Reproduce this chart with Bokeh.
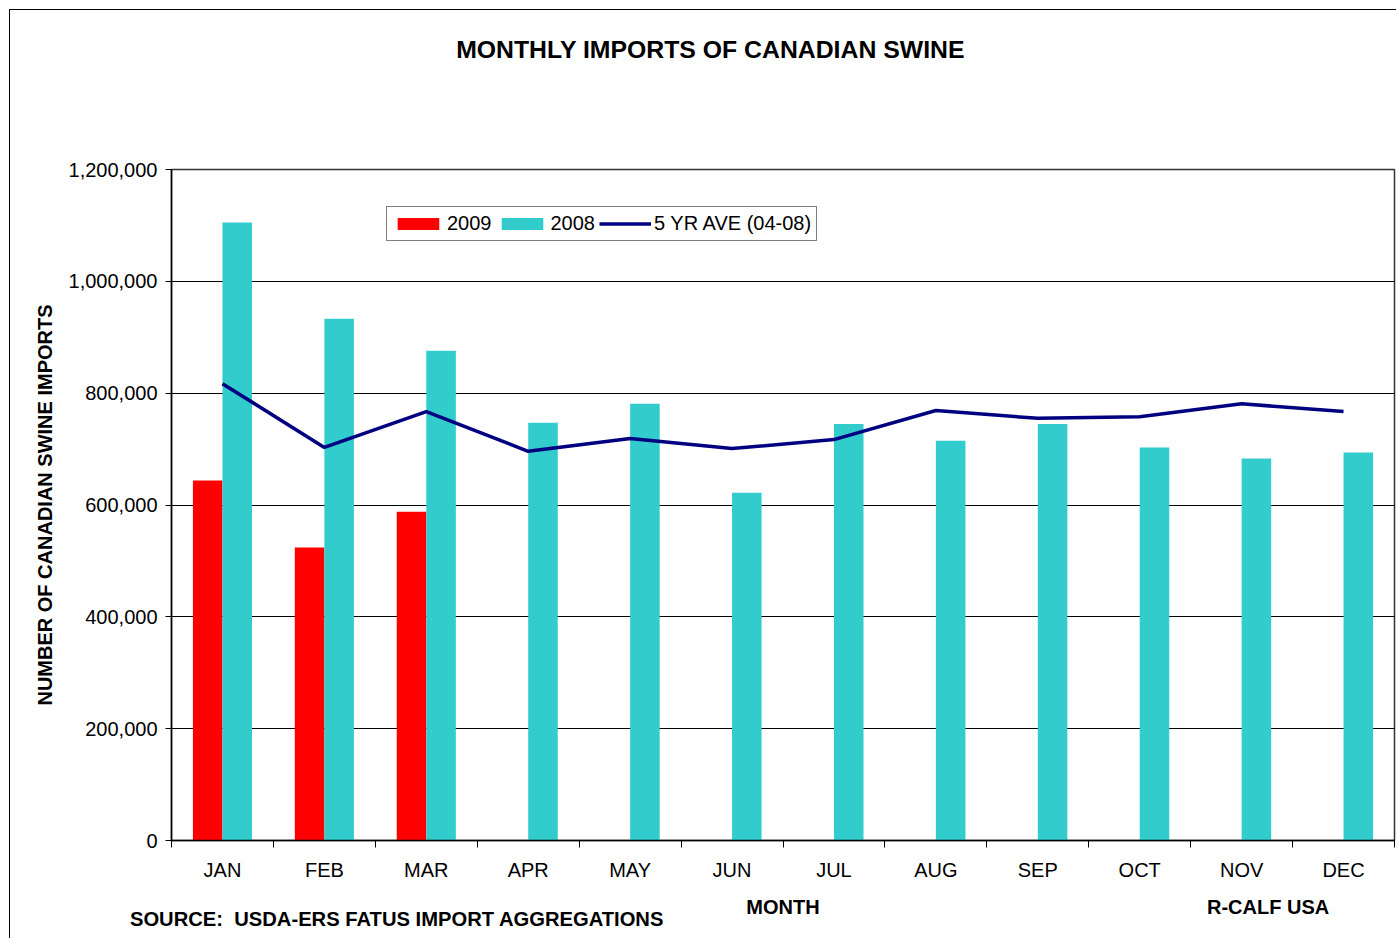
from bokeh.plotting import figure
from bokeh.models import (Range1d, FixedTicker, NumeralTickFormatter, Legend, LegendItem, LinearAxis)
from bokeh.embed import file_html
from bokeh.resources import INLINE

months = ["JAN", "FEB", "MAR", "APR", "MAY", "JUN", "JUL", "AUG", "SEP", "OCT", "NOV", "DEC"]
imports_2009 = [644000, 524000, 588000]
imports_2008 = [1105000, 933000, 876000, 747000, 781000, 622000, 745000, 715000, 745000, 703000, 683000, 694000]
ave_5yr = [817000, 703000, 767000, 696000, 719000, 701000, 717000, 769000, 755000, 758000, 781000, 767000]
y_ticks = [0, 200000, 400000, 600000, 800000, 1000000, 1200000]

TITLE = "MONTHLY IMPORTS OF CANADIAN SWINE"
Y_LABEL = "NUMBER OF CANADIAN SWINE IMPORTS"
X_LABEL = "MONTH"
SOURCE = "SOURCE:\u00a0 USDA-ERS FATUS IMPORT AGGREGATIONS"
CREDIT = "R-CALF USA"

FONT = "Liberation Sans"
W, H = 1387, 929

p = figure(width=W, height=H, output_backend="svg", toolbar_location=None,
           x_range=Range1d(0, 12), y_range=Range1d(0, 1200000),
           min_border_left=161, min_border_right=3, min_border_top=159, min_border_bottom=99)
p.styles = {"margin-left": "9px", "margin-top": "9px",
            "border-left": "1px solid black", "border-top": "1px solid black"}

centers = [i + 0.5 for i in range(len(months))]
bw = 0.29
r2009 = p.vbar(x=[c - bw / 2 for c in centers[:len(imports_2009)]], top=imports_2009, width=bw,
               fill_color="#FF0000", line_color=None)
r2008 = p.vbar(x=[c + bw / 2 for c in centers], top=imports_2008, width=bw,
               fill_color="#33CCCC", line_color=None)
rave = p.line(x=centers, y=ave_5yr, line_color="#000080", line_width=3.5)

# x axis (month names, ticks at category boundaries)
p.xaxis.ticker = FixedTicker(ticks=centers, minor_ticks=list(range(13)))
p.xaxis.major_label_overrides = {c: m for c, m in zip(centers, months)}
p.xaxis.major_tick_out = 0
p.xaxis.major_tick_in = 0
p.xaxis.minor_tick_out = 7
p.xaxis.minor_tick_in = 0
p.xaxis.minor_tick_line_color = "black"
p.xaxis.major_label_standoff = 11
p.xaxis.major_label_text_font = FONT
p.xaxis.major_label_text_font_size = "20px"
p.xaxis.major_label_text_color = "black"
p.xaxis.axis_line_color = "black"
p.xaxis.axis_line_width = 1.5

# free text rows, drawn as tick-less axes
def text_axis(labels_at, standoff, side, size="20px"):
    ax = LinearAxis(ticker=FixedTicker(ticks=list(labels_at.keys()), minor_ticks=[]),
                    major_label_overrides=labels_at,
                    axis_line_color=None, major_tick_line_color=None, minor_tick_line_color=None,
                    major_tick_out=0, major_tick_in=0, minor_tick_out=0, minor_tick_in=0,
                    major_label_standoff=standoff,
                    major_label_text_font=FONT, major_label_text_font_size=size,
                    major_label_text_font_style="bold", major_label_text_color="black")
    p.add_layout(ax, side)
    return ax

text_axis({5.289: TITLE}, 107, "above", size="24.8px")
text_axis({6.0: X_LABEL, 10.76: CREDIT}, 12, "below")
text_axis({2.213: SOURCE}, -13, "below", size="20.2px")

# y axis
p.yaxis.ticker = FixedTicker(ticks=y_ticks, minor_ticks=[])
p.yaxis.formatter = NumeralTickFormatter(format="0,0")
p.yaxis.major_tick_out = 6
p.yaxis.major_tick_in = 0
p.yaxis.major_tick_line_color = "black"
p.yaxis.major_label_standoff = 8
p.yaxis.major_label_text_font = FONT
p.yaxis.major_label_text_font_size = "20px"
p.yaxis.major_label_text_color = "black"
p.yaxis.axis_line_color = "black"
p.yaxis.axis_line_width = 1.5
p.yaxis.axis_label = Y_LABEL
p.yaxis.axis_label_text_font = FONT
p.yaxis.axis_label_text_font_size = "20px"
p.yaxis.axis_label_text_font_style = "bold"
p.yaxis.axis_label_text_color = "black"
p.yaxis.axis_label_standoff = 10

p.xgrid.visible = False
p.ygrid.ticker = FixedTicker(ticks=y_ticks)
p.ygrid.grid_line_color = "black"
p.ygrid.grid_line_width = 1

p.outline_line_color = "#333333"
p.outline_line_width = 1.5
p.background_fill_color = "white"
p.border_fill_color = "white"

# legend
legend = Legend(items=[LegendItem(label="2009", renderers=[r2009]),
                       LegendItem(label="2008", renderers=[r2008]),
                       LegendItem(label="5 YR AVE (04-08)", renderers=[rave])],
                orientation="horizontal", location=(215, 599),
                glyph_width=52, glyph_height=15, label_standoff=3, spacing=4,
                padding=5, margin=0,
                label_text_font=FONT, label_text_font_size="20px", label_text_color="black",
                border_line_color="black", border_line_width=1, background_fill_alpha=1)
p.add_layout(legend, "center")

open("out.html", "w").write(file_html(p, INLINE))
